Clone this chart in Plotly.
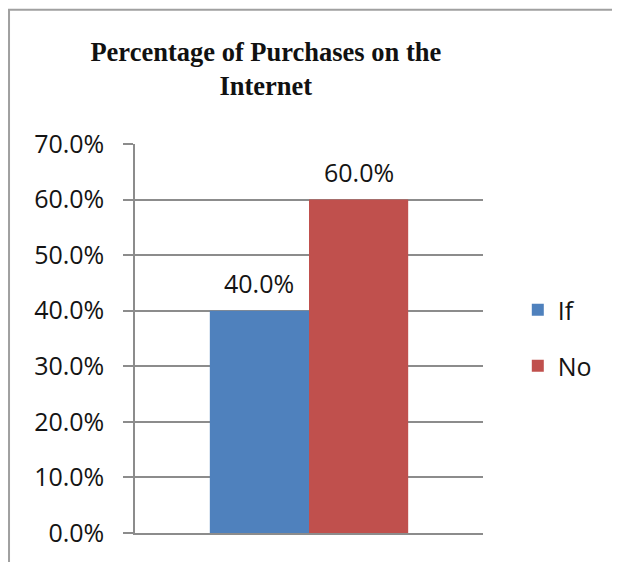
import plotly.graph_objects as go

# data
categories = ["Purchases"]
series_names = ["If", "No"]
series_values = [[0.40], [0.60]]
series_colors = ["#4f81bd", "#c0504d"]

tick_vals = [0, 0.1, 0.2, 0.3, 0.4, 0.5, 0.6, 0.7]

label_font = dict(family="Open Sans, Lato, Liberation Sans, sans-serif", size=25, color="#141414")

fig = go.Figure()
legend_ids = ["legend", "legend2"]
for name, vals, col, lg in zip(series_names, series_values, series_colors, legend_ids):
    fig.add_trace(go.Bar(
        x=categories,
        y=vals,
        name=name,
        marker=dict(color=col, line=dict(width=0)),
        legend=lg,
    ))

# value labels above each bar (grouped bars sit half a bar width either side)
bar_half = 49.6
for i, vals in enumerate(series_values):
    for cat, v in zip(categories, vals):
        fig.add_annotation(
            x=cat, y=v, text=f"{v:.1%}",
            showarrow=False, font=label_font,
            xshift=(i - 0.5) * 2 * bar_half, yshift=28, yanchor="middle",
        )

fig.update_layout(
    width=620,
    height=562,
    margin=dict(l=127, r=145, t=136, b=37),
    paper_bgcolor="white",
    plot_bgcolor="white",
    barmode="group",
    bargap=0.43,
    bargroupgap=0,
    title=dict(
        text="<b>Percentage of Purchases on the<br>Internet</b>",
        font=dict(family="Liberation Serif, Times New Roman, serif", size=26.5, color="#111111"),
        x=0.376, xref="paper", xanchor="center",
        y=1 - 53 / 562, yref="container", yanchor="top",
    ),
    legend=dict(
        x=1.10, y=0.573, xanchor="left", yanchor="middle",
        font=label_font, bgcolor="rgba(0,0,0,0)",
    ),
    legend2=dict(
        x=1.10, y=0.429, xanchor="left", yanchor="middle",
        font=label_font, bgcolor="rgba(0,0,0,0)",
    ),
    showlegend=True,
)

fig.update_yaxes(
    range=[0, 0.7],
    tickvals=tick_vals,
    tickformat=".1%",
    tickfont=label_font,
    ticks="outside",
    ticklen=10,
    tickcolor="#8c8c8c",
    tickwidth=1.5,
    showgrid=True,
    gridcolor="#8c8c8c",
    gridwidth=1.5,
    showline=True,
    linecolor="#8c8c8c",
    linewidth=1.5,
    zeroline=False,
    ticklabelstandoff=14,
)
fig.update_xaxes(
    type="category",
    showticklabels=False,
    showline=True,
    linecolor="#8c8c8c",
    linewidth=1.5,
    showgrid=False,
)

# outer chart border (left edge sits at the very edge of the figure)
fig.add_shape(
    type="rect", xref="paper", yref="paper",
    x0=-0.362, y0=-0.3, x1=1.6, y1=1.345,
    line=dict(color="#a0a0a0", width=2),
    fillcolor="rgba(0,0,0,0)", layer="below",
)

fig.write_html("out.html")
